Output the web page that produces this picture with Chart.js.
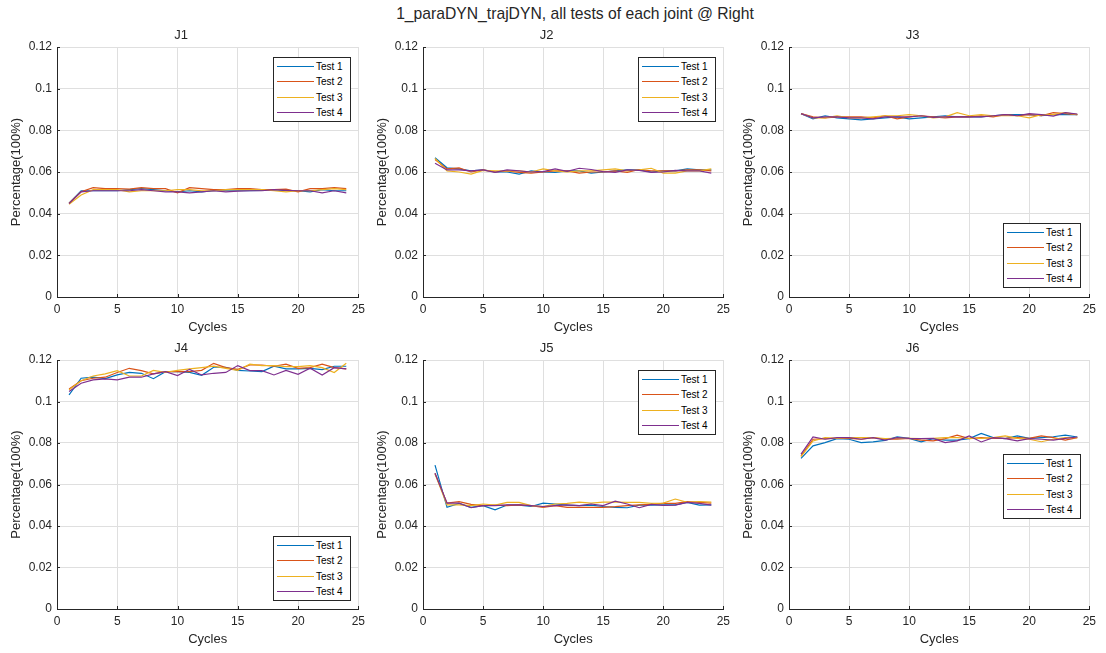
<!DOCTYPE html>
<html><head><meta charset="utf-8">
<script src="https://cdn.jsdelivr.net/npm/chart.js@4.4.0/dist/chart.umd.min.js"></script>
<style>
html,body{margin:0;padding:0;background:#fff;}
body{width:1106px;height:653px;position:relative;overflow:hidden;font-family:"Liberation Sans",Arial,sans-serif;}
canvas{position:absolute;}
#title{position:absolute;top:5px;left:0;width:1150px;text-align:center;font-size:15.7px;line-height:18px;color:#262626;white-space:nowrap;}
.legend{position:absolute;box-sizing:border-box;width:78px;height:65px;border:1px solid #262626;background:#fff;font-size:10px;color:#000;padding:1px 0;}
.legend .row{height:15.3px;display:flex;align-items:center;}
.legend .sw{width:37px;height:0;border-top:1.5px solid;margin:0 2px 0 3px;}
</style></head>
<body>
<div id="title">1_paraDYN_trajDYN, all tests of each joint @ Right</div>
<script>
// ---------- data ----------
const cycles = [1,2,3,4,5,6,7,8,9,10,11,12,13,14,15,16,17,18,19,20,21,22,23,24];
const seriesNames = ['Test 1','Test 2','Test 3','Test 4'];
const seriesColors = ['#0072BD','#D95319','#EDB120','#7E2F8E'];
const jointTitles = ['J1','J2','J3','J4','J5','J6'];
const xTicks = [0,5,10,15,20,25];
const xTickLabels = ['0','5','10','15','20','25'];
const yTicks = [0,0.02,0.04,0.06,0.08,0.1,0.12];
const yTickLabels = ['0','0.02','0.04','0.06','0.08','0.1','0.12'];
const xLabel = 'Cycles';
const yLabel = 'Percentage(100%)';

const j1_t1 = [0.0450,0.0510,0.0510,0.0510,0.0510,0.0515,0.0520,0.0515,0.0510,0.0505,0.0510,0.0505,0.0510,0.0510,0.0510,0.0510,0.0512,0.0515,0.0510,0.0510,0.0505,0.0515,0.0510,0.0510];
const j1_t2 = [0.0450,0.0505,0.0525,0.0520,0.0520,0.0518,0.0525,0.0520,0.0520,0.0500,0.0525,0.0520,0.0515,0.0515,0.0520,0.0520,0.0515,0.0515,0.0518,0.0505,0.0520,0.0520,0.0525,0.0520];
const j1_t3 = [0.0445,0.0490,0.0515,0.0515,0.0515,0.0505,0.0510,0.0510,0.0510,0.0515,0.0515,0.0510,0.0510,0.0515,0.0515,0.0515,0.0515,0.0510,0.0505,0.0510,0.0510,0.0515,0.0520,0.0515];
const j1_t4 = [0.0448,0.0505,0.0510,0.0510,0.0510,0.0510,0.0515,0.0510,0.0505,0.0505,0.0500,0.0505,0.0510,0.0505,0.0508,0.0510,0.0510,0.0515,0.0512,0.0510,0.0510,0.0500,0.0510,0.0500];

const j2_t1 = [0.0668,0.0620,0.0615,0.0605,0.0610,0.0600,0.0600,0.0590,0.0605,0.0600,0.0598,0.0605,0.0605,0.0595,0.0600,0.0605,0.0610,0.0610,0.0600,0.0605,0.0605,0.0615,0.0610,0.0610];
const j2_t2 = [0.0660,0.0615,0.0620,0.0600,0.0610,0.0600,0.0605,0.0598,0.0595,0.0600,0.0605,0.0605,0.0595,0.0600,0.0600,0.0605,0.0598,0.0612,0.0605,0.0605,0.0605,0.0610,0.0610,0.0605];
const j2_t3 = [0.0665,0.0605,0.0600,0.0590,0.0608,0.0605,0.0605,0.0605,0.0600,0.0615,0.0605,0.0600,0.0605,0.0605,0.0610,0.0615,0.0605,0.0610,0.0618,0.0595,0.0595,0.0605,0.0605,0.0615];
const j2_t4 = [0.0642,0.0610,0.0610,0.0605,0.0610,0.0598,0.0610,0.0605,0.0600,0.0602,0.0615,0.0603,0.0618,0.0612,0.0602,0.0598,0.0610,0.0608,0.0598,0.0600,0.0608,0.0605,0.0605,0.0595];

const j3_t1 = [0.0880,0.0855,0.0870,0.0860,0.0855,0.0850,0.0855,0.0860,0.0865,0.0855,0.0860,0.0865,0.0870,0.0865,0.0865,0.0865,0.0870,0.0875,0.0875,0.0875,0.0870,0.0875,0.0875,0.0875];
const j3_t2 = [0.0880,0.0865,0.0860,0.0865,0.0865,0.0865,0.0860,0.0870,0.0855,0.0865,0.0870,0.0865,0.0860,0.0865,0.0865,0.0870,0.0865,0.0875,0.0870,0.0875,0.0870,0.0885,0.0880,0.0875];
const j3_t3 = [0.0880,0.0860,0.0860,0.0870,0.0860,0.0860,0.0865,0.0870,0.0870,0.0875,0.0870,0.0860,0.0865,0.0885,0.0870,0.0875,0.0870,0.0870,0.0870,0.0860,0.0875,0.0875,0.0885,0.0875];
const j3_t4 = [0.0880,0.0860,0.0865,0.0865,0.0860,0.0860,0.0855,0.0865,0.0865,0.0865,0.0870,0.0862,0.0865,0.0865,0.0865,0.0865,0.0870,0.0875,0.0870,0.0880,0.0875,0.0868,0.0885,0.0878];

const j4_t1 = [0.1032,0.1112,0.1117,0.1110,0.1128,0.1140,0.1136,0.1110,0.1144,0.1144,0.1140,0.1126,0.1165,0.1165,0.1150,0.1147,0.1144,0.1170,0.1157,0.1157,0.1160,0.1154,0.1170,0.1170];
const j4_t2 = [0.1060,0.1100,0.1112,0.1117,0.1140,0.1160,0.1149,0.1133,0.1144,0.1144,0.1144,0.1150,0.1184,0.1163,0.1155,0.1176,0.1176,0.1170,0.1180,0.1160,0.1163,0.1180,0.1163,0.1157];
const j4_t3 = [0.1056,0.1100,0.1123,0.1133,0.1149,0.1123,0.1123,0.1150,0.1140,0.1150,0.1157,0.1163,0.1170,0.1160,0.1150,0.1180,0.1173,0.1173,0.1168,0.1168,0.1173,0.1163,0.1140,0.1184];
const j4_t4 = [0.1048,0.1088,0.1104,0.1109,0.1104,0.1117,0.1117,0.1133,0.1144,0.1125,0.1155,0.1128,0.1136,0.1140,0.1173,0.1149,0.1149,0.1128,0.1150,0.1131,0.1160,0.1128,0.1163,0.1157];

const j5_t1 = [0.0693,0.0490,0.0509,0.0490,0.0498,0.0478,0.0501,0.0501,0.0494,0.0510,0.0506,0.0501,0.0498,0.0501,0.0494,0.0490,0.0488,0.0501,0.0501,0.0502,0.0502,0.0514,0.0501,0.0502];
const j5_t2 = [0.0654,0.0510,0.0517,0.0504,0.0498,0.0501,0.0498,0.0502,0.0498,0.0490,0.0498,0.0490,0.0490,0.0490,0.0490,0.0493,0.0498,0.0502,0.0504,0.0509,0.0509,0.0517,0.0514,0.0510];
const j5_t3 = [0.0650,0.0502,0.0502,0.0498,0.0506,0.0501,0.0514,0.0514,0.0498,0.0493,0.0506,0.0509,0.0515,0.0510,0.0515,0.0515,0.0514,0.0514,0.0509,0.0510,0.0530,0.0514,0.0518,0.0515];
const j5_t4 = [0.0654,0.0510,0.0510,0.0488,0.0498,0.0498,0.0502,0.0502,0.0498,0.0494,0.0498,0.0502,0.0498,0.0506,0.0498,0.0520,0.0506,0.0488,0.0504,0.0499,0.0501,0.0514,0.0509,0.0501];

const j6_t1 = [0.0726,0.0786,0.0802,0.0821,0.0818,0.0802,0.0805,0.0813,0.0830,0.0822,0.0806,0.0821,0.0814,0.0814,0.0821,0.0846,0.0826,0.0821,0.0834,0.0822,0.0826,0.0830,0.0838,0.0829];
const j6_t2 = [0.0738,0.0818,0.0821,0.0822,0.0822,0.0818,0.0826,0.0818,0.0818,0.0822,0.0814,0.0810,0.0821,0.0838,0.0821,0.0826,0.0822,0.0822,0.0826,0.0822,0.0834,0.0826,0.0814,0.0826];
const j6_t3 = [0.0734,0.0810,0.0826,0.0822,0.0826,0.0826,0.0826,0.0821,0.0822,0.0822,0.0821,0.0822,0.0826,0.0826,0.0822,0.0822,0.0826,0.0834,0.0822,0.0818,0.0806,0.0818,0.0826,0.0826];
const j6_t4 = [0.0746,0.0829,0.0818,0.0826,0.0826,0.0818,0.0826,0.0814,0.0826,0.0822,0.0821,0.0822,0.0802,0.0810,0.0834,0.0805,0.0826,0.0821,0.0810,0.0821,0.0818,0.0814,0.0822,0.0829];

const jointSeries = [
  [j1_t1,j1_t2,j1_t3,j1_t4],
  [j2_t1,j2_t2,j2_t3,j2_t4],
  [j3_t1,j3_t2,j3_t3,j3_t4],
  [j4_t1,j4_t2,j4_t3,j4_t4],
  [j5_t1,j5_t2,j5_t3,j5_t4],
  [j6_t1,j6_t2,j6_t3,j6_t4]
];

// ---------- layout ----------
const FONT = '"Liberation Sans", Arial, sans-serif';
const TEXT = '#262626';
const colLeft = [0, 366, 732];
const areaW = [305, 304, 304];
const rowTop = [22, 335];
const areaH = [250, 249];
const YAXIS_W = 57, XAXIS_H = 38, TITLE_H = 25, PAD_R = 8;
// legend placement: [left, top] in page pixels
const legendPos = [[273,57],[638,57],[1003,223],[273,536],[638,370],[1003,454]];

const innerTicks = {
  id: 'innerTicks',
  afterDatasetsDraw(chart) {
    const {ctx, chartArea: a, scales: {x, y}} = chart;
    ctx.save();
    ctx.strokeStyle = TEXT; ctx.lineWidth = 1;
    ctx.beginPath();
    x.ticks.forEach(t => { const px = Math.round(x.getPixelForValue(t.value)) + 0.5; ctx.moveTo(px, a.bottom); ctx.lineTo(px, a.bottom - 3); });
    y.ticks.forEach(t => { const py = Math.round(y.getPixelForValue(t.value)) + 0.5; ctx.moveTo(a.left, py); ctx.lineTo(a.left + 3, py); });
    ctx.stroke();
    ctx.restore();
  }
};

for (let i = 0; i < 6; i++) {
  const r = Math.floor(i / 3), c = i % 3;
  const w = YAXIS_W + areaW[c] + PAD_R;
  const h = TITLE_H + areaH[r] + XAXIS_H;
  const cv = document.createElement('canvas');
  cv.width = w; cv.height = h;
  cv.style.left = colLeft[c] + 'px'; cv.style.top = rowTop[r] + 'px';
  cv.style.width = w + 'px'; cv.style.height = h + 'px';
  document.body.appendChild(cv);

  const datasets = jointSeries[i].map((vals, k) => ({
    label: seriesNames[k],
    data: cycles.map((cx, n) => ({x: cx, y: vals[n]})),
    borderColor: seriesColors[k],
    backgroundColor: seriesColors[k],
    borderWidth: 1.2,
    pointRadius: 0,
    tension: 0,
    fill: false,
    order: 3 - k
  }));

  new Chart(cv, {
    type: 'line',
    data: {datasets},
    plugins: [innerTicks],
    options: {
      responsive: false, animation: false, devicePixelRatio: 1,
      layout: {padding: {left: 0, right: PAD_R, top: 0, bottom: 0}},
      plugins: {
        legend: {display: false},
        tooltip: {enabled: false},
        title: {display: true, text: jointTitles[i], color: TEXT,
          font: {family: FONT, size: 13, weight: 'normal', lineHeight: 1.2},
          padding: {top: 6, bottom: 3.4}}
      },
      scales: {
        x: {
          type: 'linear', min: xTicks[0], max: xTicks[xTicks.length - 1],
          afterBuildTicks: s => { s.ticks = xTicks.map(v => ({value: v})); },
          afterFit: s => { s.height = XAXIS_H; },
          ticks: {color: TEXT, font: {family: FONT, size: 12}, padding: 5, maxRotation: 0, autoSkip: false,
            callback: (v, idx) => xTickLabels[idx]},
          grid: {color: '#dfdfdf', lineWidth: 1, drawTicks: false},
          border: {color: TEXT, width: 1},
          title: {display: true, text: xLabel, color: TEXT, font: {family: FONT, size: 13, lineHeight: 1.2}, padding: 0}
        },
        y: {
          type: 'linear', min: yTicks[0], max: yTicks[yTicks.length - 1],
          afterBuildTicks: s => { s.ticks = yTicks.map(v => ({value: v})); },
          afterFit: s => { s.width = YAXIS_W; },
          ticks: {color: TEXT, font: {family: FONT, size: 12}, padding: 5, autoSkip: false,
            callback: (v, idx) => yTickLabels[idx]},
          grid: {color: '#dfdfdf', lineWidth: 1, drawTicks: false},
          border: {color: TEXT, width: 1},
          title: {display: true, text: yLabel, color: TEXT, font: {family: FONT, size: 13, lineHeight: 1.2}, padding: {top: 9, bottom: 0}}
        }
      }
    }
  });

  // legend (HTML)
  const lg = document.createElement('div');
  lg.className = 'legend';
  lg.style.left = legendPos[i][0] + 'px';
  lg.style.top = legendPos[i][1] + 'px';
  seriesNames.forEach((nm, k) => {
    const row = document.createElement('div'); row.className = 'row';
    const sw = document.createElement('span'); sw.className = 'sw'; sw.style.borderTopColor = seriesColors[k];
    const tx = document.createElement('span'); tx.textContent = nm;
    row.appendChild(sw); row.appendChild(tx); lg.appendChild(row);
  });
  document.body.appendChild(lg);
}
</script>
</body></html>
